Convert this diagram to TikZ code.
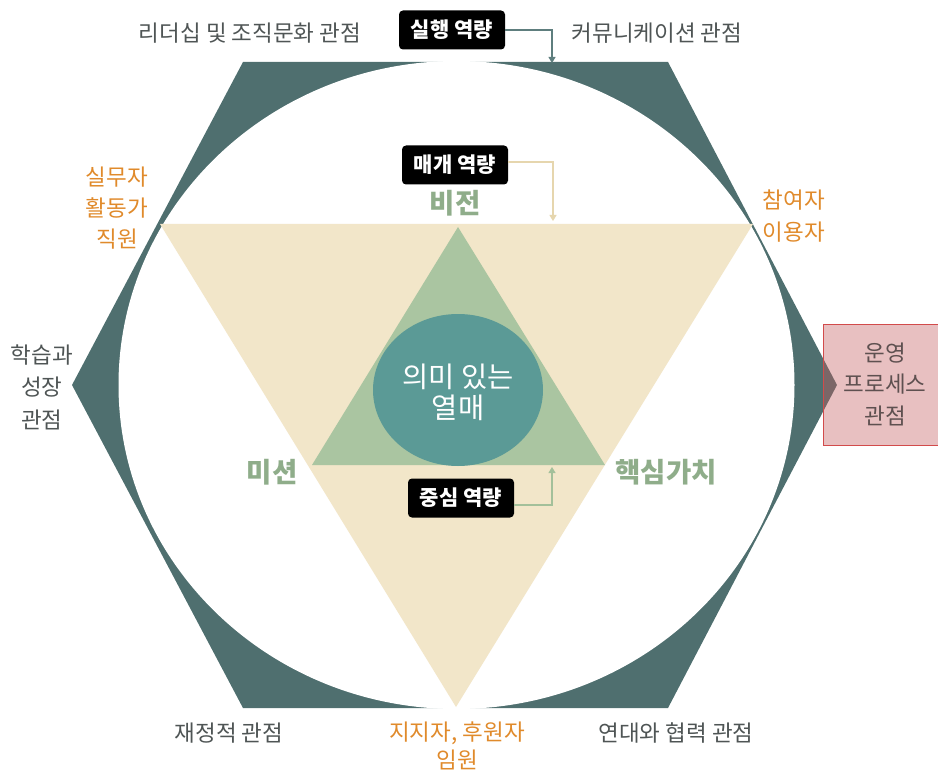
\documentclass[tikz,border=0pt]{standalone}
\usepackage{fontspec}
\setmainfont{Noto Sans CJK KR}
\usetikzlibrary{arrows.meta}
\definecolor{hexc}{HTML}{4F6F6F}
\definecolor{beige}{HTML}{F2E6C9}
\definecolor{tgreen}{HTML}{AAC5A1}
\definecolor{teal}{HTML}{5B9A96}
\definecolor{labgray}{HTML}{4F5555}
\definecolor{orng}{HTML}{E08A2B}
\definecolor{grntxt}{HTML}{8FAD8A}
\definecolor{pinkf}{HTML}{C3595C}
\definecolor{pinkd}{HTML}{D24B4B}
\definecolor{boxtxt}{HTML}{5E5050}
\definecolor{arrslate}{HTML}{5E7E7E}
\definecolor{arrbeige}{HTML}{E6D6AE}
\definecolor{arrgreen}{HTML}{A3C09A}
\tikzset{
  lab/.style={text=labgray, font=\fontsize{22.5}{31}\selectfont, align=center, inner sep=0pt},
  olab/.style={text=orng, font=\fontsize{22.5}{31}\selectfont, align=center, inner sep=0pt},
  glab/.style={text=grntxt, font=\fontsize{27.5}{30}\selectfont\bfseries, inner sep=0pt},
  capbox/.style={fill=black, rounded corners=4pt, text=white, font=\fontsize{21}{22}\selectfont\bfseries,
    minimum width=106pt, minimum height=39pt, inner sep=0pt},
  conn/.style={line width=1.1pt, -{Triangle[width=7pt,length=6pt]}}
}
\begin{document}
\begin{tikzpicture}[x=1pt,y=-1pt]
\useasboundingbox (0,0) rectangle (938,773);
% hexagon and white disk
\fill[hexc] (243,62) -- (668,62) -- (837,385) -- (668,708) -- (243,708) -- (72,385) -- cycle;
\fill[white] (456.5,385) ellipse [x radius=338, y radius=324];
% triangles and centre
\fill[beige] (160,224) -- (753,224) -- (456,707) -- cycle;
\fill[tgreen] (312,465) -- (605,465) -- (458,227) -- cycle;
\fill[teal] (458,390) ellipse [x radius=85, y radius=76];
\node[text=white, font=\fontsize{28.5}{31}\selectfont, align=center, inner sep=0pt] (fruit) at (458,392) {의미 있는\\열매};
% pink box
\node[fill=pinkf, fill opacity=0.38, draw=pinkd, draw opacity=1, line width=1.2pt,
  minimum width=118pt, minimum height=121pt, inner sep=0pt, anchor=north west] (opbox) at (823,324) {};
\node[text=boxtxt, font=\fontsize{22.5}{31.5}\selectfont, align=center, inner sep=0pt] (optxt) at (885,384) {운영\\프로세스\\관점};
% outer labels
\node[lab] (lead) at (250,33) {리더십 및 조직문화 관점};
\node[lab] (comm) at (657,33) {커뮤니케이션 관점};
\node[lab, font=\fontsize{22.5}{32.5}\selectfont] (learn) at (42,387) {학습과\\성장\\관점};
\node[lab] (fin) at (229,733) {재정적 관점};
\node[lab] (soli) at (676,733) {연대와 협력 관점};
\node[olab] (staff) at (117,208) {실무자\\활동가\\직원};
\node[olab, font=\fontsize{22.5}{32}\selectfont] (part) at (794,216) {참여자\\이용자};
\node[olab, font=\fontsize{22.5}{28}\selectfont] (supp) at (457,746) {지지자, 후원자\\임원};
% green labels
\node[glab] (vision) at (455,203) {비전};
\node[glab] (mission) at (272,472) {미션};
\node[glab] (core) at (666,472) {핵심가치};
% capability boxes and connectors
\node[capbox] (exec) at (452,30) {실행 역량};
\node[capbox] (medi) at (455,165) {매개 역량};
\node[capbox] (cent) at (461,498) {중심 역량};
\coordinate (execT) at (552,63);
\coordinate (mediT) at (553,221);
\coordinate (centT) at (552,467);
\draw[conn, arrslate] (exec.east) -| (execT);
\draw[conn, arrbeige] ([yshift=3pt]medi.east) -| (mediT);
\draw[conn, arrgreen] ([yshift=-7pt]cent.east) -| (centT);
\end{tikzpicture}
\end{document}
